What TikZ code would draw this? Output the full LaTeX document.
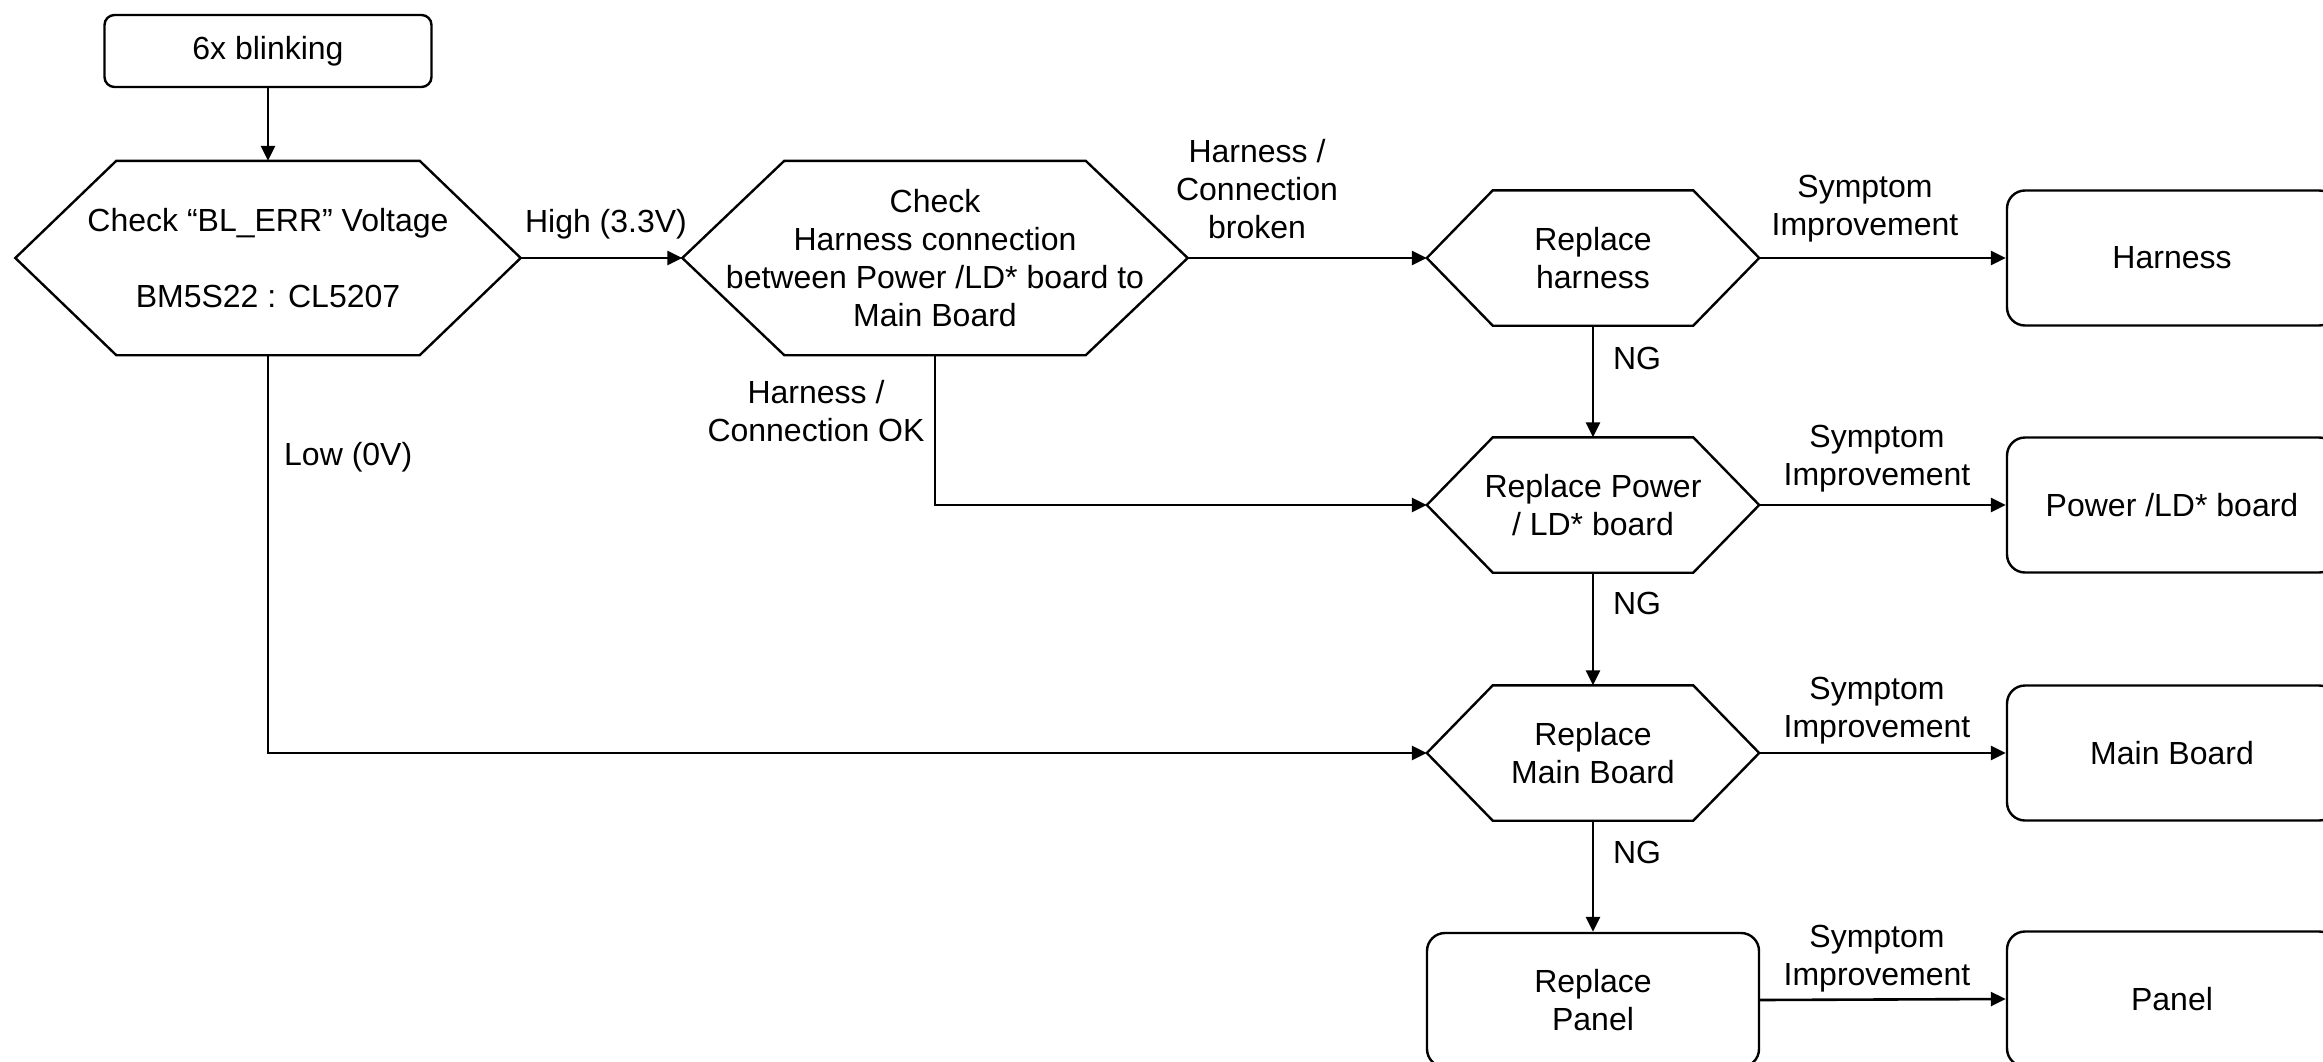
\documentclass[tikz,border=0pt]{standalone}
\usepackage{fontspec}
\setmainfont{Liberation Sans}
\usetikzlibrary{calc,arrows.meta}
\newcommand{\drawhexagon}[2]{%
  \draw[shapeline] (#1.west) -- ($(#1.north west)+(#2,0)$) -- ($(#1.north east)+(-#2,0)$) -- (#1.east) -- ($(#1.south east)+(-#2,0)$) -- ($(#1.south west)+(#2,0)$) -- cycle;}
\begin{document}
\begin{tikzpicture}[x=1pt,y=-1pt,
  every node/.style={font=\fontsize{32}{38}\selectfont, align=center, inner sep=0pt},
  shapeline/.style={line width=2.4pt, line join=miter},
  hexbig/.style={minimum width=505pt, minimum height=194pt},
  hexsmall/.style={minimum width=332pt, minimum height=135pt},
  startbox/.style={draw, line width=2.4pt, rounded corners=10pt, minimum width=327pt, minimum height=72pt},
  endbox/.style={draw, line width=2.4pt, rounded corners=18pt, minimum width=332pt, minimum height=134pt},
  resultbox/.style={draw, line width=2.4pt, rounded corners=18pt, minimum width=330pt, minimum height=135pt},
  conn/.style={line width=2.6pt, -{Triangle[length=15pt,width=14pt]}},
  lbl/.style={}
]
\useasboundingbox (0,-2) rectangle (2323,1060);
\fill[white] (0,-2) rectangle (2323,1060);

% nodes
\node[startbox] (blink) at (268,49) {6x blinking};
\node[hexbig] (hexa) at (268,256) {Check “BL\_ERR” Voltage\\[38pt]BM5S22 : CL5207};
\node[hexbig] (hexb) at (935,256) {Check\\Harness connection\\between Power /LD* board to\\Main Board};
\node[hexsmall] (hexc) at (1593,256) {Replace\\harness};
\node[hexsmall] (hexd) at (1593,503) {Replace Power\\/ LD* board};
\node[hexsmall] (hexe) at (1593,751) {Replace\\Main Board};
\node[endbox] (prep) at (1593,998) {Replace\\Panel};

\node[resultbox] (rharness) at (2172,256) {Harness};
\node[resultbox] (rpower) at (2172,503) {Power /LD* board};
\node[resultbox] (rmain) at (2172,751) {Main Board};
\node[resultbox] (rpanel) at (2172,997) {Panel};

\drawhexagon{hexa}{101pt}
\drawhexagon{hexb}{102pt}
\drawhexagon{hexc}{66pt}
\drawhexagon{hexd}{66pt}
\drawhexagon{hexe}{66pt}

% connectors
\draw[conn] (blink.south) -- (hexa.north);
\draw[conn] (hexa.east) -- (hexb.west);
\draw[conn] (hexb.east) -- (hexc.west);
\draw[conn] (hexb.south) |- (hexd.west);
\draw[conn] (hexa.south) |- (hexe.west);
\draw[conn] (hexc.south) -- (hexd.north);
\draw[conn] (hexd.south) -- (hexe.north);
\draw[conn] (hexe.south) -- (prep.north);
\draw[conn] (hexc.east) -- (rharness.west);
\draw[conn] (hexd.east) -- (rpower.west);
\draw[conn] (hexe.east) -- (rmain.west);
\draw[conn] (prep.east) -- (rpanel.west);

% labels
\node[lbl] (lhigh) at (606,222) {High (3.3V)};
\node[lbl] (lbroken) at (1257,187) {Harness /\\Connection\\broken};
\node[lbl] (lok) at (816,409) {Harness /\\Connection OK};
\node[lbl, anchor=west] (llow) at (284,455) {Low (0V)};
\node[lbl] (lng1) at (1637,356) {NG};
\node[lbl] (lng2) at (1637,601) {NG};
\node[lbl] (lng3) at (1637,850) {NG};
\node[lbl] (ls1) at (1865,207) {Symptom\\Improvement};
\node[lbl] (ls2) at (1877,457) {Symptom\\Improvement};
\node[lbl] (ls3) at (1877,709) {Symptom\\Improvement};
\node[lbl] (ls4) at (1877,957) {Symptom\\Improvement};
\end{tikzpicture}
\end{document}
